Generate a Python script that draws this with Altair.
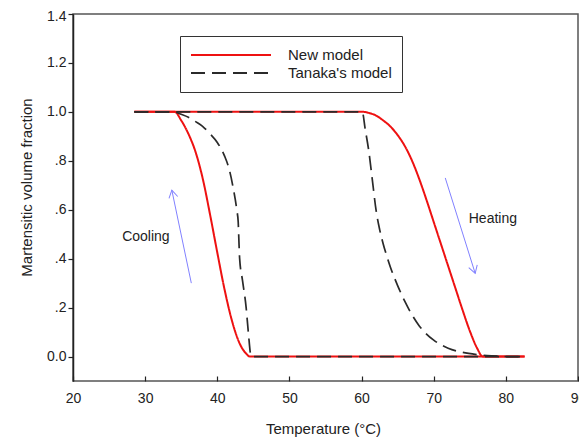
import json
import math
import altair as alt
import pandas as pd

# ---------------- data ----------------
models = ["New model", "Tanaka's model"]

# New model: cooling branch (martensite forms) and heating branch (martensite vanishes)
new_cool_temp = [28.5, 34.1, 35.0, 36.0, 37.0, 38.0, 39.0, 40.0, 41.0, 42.0, 43.0, 44.0, 44.5, 82.6]
new_cool_frac = [1.0, 1.0, 0.965, 0.91, 0.835, 0.725, 0.58, 0.425, 0.275, 0.15, 0.06, 0.012, 0.0, 0.0]
new_heat_temp = [28.5, 60.3, 61.0, 62.0, 63.0, 64.0, 65.0, 66.0, 67.0, 68.0, 69.0, 70.0, 71.0,
                 72.0, 73.0, 74.0, 75.0, 76.0, 76.8, 82.6]
new_heat_frac = [1.0, 1.0, 0.996, 0.985, 0.965, 0.94, 0.905, 0.86, 0.80, 0.725, 0.64, 0.55, 0.46,
                 0.37, 0.28, 0.19, 0.105, 0.035, 0.0, 0.0]

# Tanaka's model
tan_cool_temp = [28.5, 34.0, 35.0, 36.0, 37.0, 38.0, 39.0, 40.0, 41.0, 41.7, 42.2, 42.7, 42.9,
                 43.0, 43.1, 43.5, 44.0, 44.3, 44.7, 82.6]
tan_cool_frac = [1.0, 1.0, 0.99, 0.978, 0.96, 0.94, 0.91, 0.875, 0.82, 0.76, 0.69, 0.6, 0.55,
                 0.47, 0.4, 0.31, 0.2, 0.1, 0.0, 0.0]
tan_heat_temp = [28.5, 60.1, 60.5, 61.0, 61.5, 62.0, 62.5, 63.0, 63.5, 64.0, 65.0, 66.0, 67.0,
                 68.0, 69.0, 70.0, 72.0, 74.0, 76.0, 78.0, 80.3, 82.6]
tan_heat_frac = [1.0, 1.0, 0.93, 0.84, 0.72, 0.6, 0.52, 0.46, 0.41, 0.365, 0.29, 0.225, 0.17,
                 0.125, 0.092, 0.067, 0.034, 0.017, 0.008, 0.003, 0.0, 0.0]

arrow_name = ["Cooling", "Cooling", "Heating", "Heating"]
arrow_temp = [36.4, 33.7, 71.6, 75.75]
arrow_frac = [0.30, 0.68, 0.73, 0.34]

label_text = ["Cooling", "Heating"]
label_temp = [30.1, 78.2]
label_frac = [0.49, 0.563]

x_ticks = [20, 30, 40, 50, 60, 70, 80, 90]
y_ticks = [0.0, 0.2, 0.4, 0.6, 0.8, 1.0, 1.2, 1.4]
y_tick_labels = ["0.0", ".2", ".4", ".6", ".8", "1.0", "1.2", "1.4"]

# ---------------- layout / style ----------------
W, H = 505, 367
X_DOM = [20, 90]
Y_DOM = [-0.1, 1.4]
FONT = "Liberation Sans"
ARROW_COLOR = "#8080ff"

frames = []
for model, branch, t, f in [
    (models[0], "cool", new_cool_temp, new_cool_frac),
    (models[0], "heat", new_heat_temp, new_heat_frac),
    (models[1], "cool", tan_cool_temp, tan_cool_frac),
    (models[1], "heat", tan_heat_temp, tan_heat_frac),
]:
    assert len(t) == len(f)
    frames.append(pd.DataFrame({"Temperature": t, "Fraction": f, "Model": model,
                                "branch": branch}))
curves = pd.concat(frames, ignore_index=True)

arrows = pd.DataFrame({
    "arrow": arrow_name, "Temperature": arrow_temp, "Fraction": arrow_frac,
    "idx": [0, 1, 0, 1],
})

# arrow heads at the end point of each arrow, rotated along the shaft
px_x = W / (X_DOM[1] - X_DOM[0])
px_y = H / (Y_DOM[1] - Y_DOM[0])
heads = []
for i in range(0, len(arrow_name), 2):
    dx = (arrow_temp[i + 1] - arrow_temp[i]) * px_x
    dy_up = (arrow_frac[i + 1] - arrow_frac[i]) * px_y
    ang = math.degrees(math.atan2(dx, dy_up)) % 360
    heads.append({"Temperature": arrow_temp[i + 1], "Fraction": arrow_frac[i + 1], "angle": ang})
heads = pd.DataFrame(heads)

labels = pd.DataFrame({"text": label_text, "Temperature": label_temp, "Fraction": label_frac})

x_enc = alt.X("Temperature:Q", scale=alt.Scale(domain=X_DOM, nice=False, zero=False),
              axis=alt.Axis(values=x_ticks, title="Temperature (°C)", offset=-5, domain=False,
                            tickSize=5, labelPadding=10, grid=False, labelFlush=False,
                            titleX=250, titleY=52, titleAlign="center", titleBaseline="middle"))
y_enc = alt.Y("Fraction:Q", scale=alt.Scale(domain=Y_DOM, nice=False, zero=False),
              axis=alt.Axis(values=y_ticks, title="Martensitic volume fraction",
                            labelExpr=f"{json.dumps(y_tick_labels)}[round(datum.value * 5)]",
                            labelOffset={"condition": {"test": "datum.value > 1.3", "value": 2},
                                         "value": 0},
                            tickSize=5, labelPadding=2, grid=False, labelFlush=False,
                            titleAngle=270, titleX=-47, titleY=173,
                            titleAlign="center", titleBaseline="middle"))

color_enc = alt.Color("Model:N", title=None,
                      scale=alt.Scale(domain=models, range=["#ee1111", "#2a2a2a"]))
dash_enc = alt.StrokeDash("Model:N", title=None,
                          scale=alt.Scale(domain=models, range=[[1, 0], [14, 7]]))

base = alt.Chart(curves)
red = base.transform_filter(alt.datum.Model == models[0]).mark_line(
    strokeWidth=2, interpolate="monotone").encode(
    x=x_enc, y=y_enc, color=color_enc, strokeDash=dash_enc, detail="branch:N")
black = base.transform_filter(alt.datum.Model == models[1]).mark_line(
    strokeWidth=1.7, interpolate="monotone").encode(
    x=x_enc, y=y_enc, color=color_enc, strokeDash=dash_enc, detail="branch:N")

shafts = alt.Chart(arrows).mark_line(color=ARROW_COLOR, strokeWidth=1).encode(
    x="Temperature:Q", y="Fraction:Q", detail="arrow:N", order="idx:Q")
tips = alt.Chart(heads).mark_point(shape="M-0.6,1L0,0L0.6,1", filled=False, size=220,
                                   strokeWidth=1, color=ARROW_COLOR, opacity=1).encode(
    x="Temperature:Q", y="Fraction:Q", angle=alt.Angle("angle:Q", scale=None))
texts = alt.Chart(labels).mark_text(font=FONT, fontSize=14, color="#222").encode(
    x="Temperature:Q", y="Fraction:Q", text="text:N")

chart = alt.layer(red, black, shafts, tips, texts).properties(
    width=W, height=H,
    autosize=alt.AutoSizeParams(type="none"),
    padding={"left": 65, "top": 6, "right": 1, "bottom": 56},
).configure_view(
    stroke="#555", strokeWidth=1.5
).configure_axis(
    labelFont=FONT, titleFont=FONT, labelFontSize=14, titleFontSize=15,
    labelColor="#222", titleColor="#222", titleFontWeight="normal",
    domainColor="#222", domainWidth=1.5, tickColor="#222", tickWidth=1.2,
).configure_legend(
    orient="none", legendX=107, legendY=22, padding=10,
    strokeColor="#333", fillColor="white",
    symbolType="stroke", symbolSize=6400, symbolStrokeWidth=2,
    clipHeight=18, rowPadding=0, labelOffset=16,
    labelFont=FONT, labelFontSize=15, labelColor="#222", labelLimit=0,
)

chart.save("out.html", embed_options={"renderer": "svg", "actions": False})
